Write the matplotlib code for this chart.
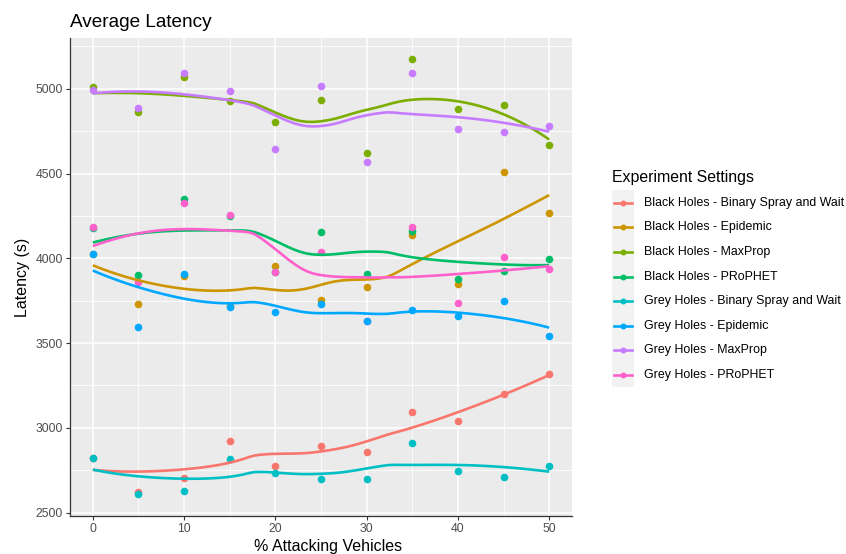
import numpy as np
import matplotlib.pyplot as plt
from matplotlib.lines import Line2D
from matplotlib.patches import Rectangle

plt.rcParams['font.family'] = ['Liberation Sans', 'DejaVu Sans']

# % attacking vehicles
x_pct = [0, 5, 10, 15, 20, 25, 30, 35, 40, 45, 50]

settings = ["Black Holes - Binary Spray and Wait", "Black Holes - Epidemic",
            "Black Holes - MaxProp", "Black Holes - PRoPHET",
            "Grey Holes - Binary Spray and Wait", "Grey Holes - Epidemic",
            "Grey Holes - MaxProp", "Grey Holes - PRoPHET"]

# average latency (s)
bh_bsw = [2823, 2622, 2707, 2922, 2774, 2894, 2855, 3091, 3040, 3199, 3317]
bh_epidemic = [4025, 3730, 3893, 3720, 3952, 3755, 3830, 4137, 3851, 4509, 4268]
bh_maxprop = [5010, 4862, 5067, 4929, 4801, 4935, 4624, 5173, 4880, 4902, 4668]
bh_prophet = [4180, 3901, 4347, 4247, 3922, 4157, 3910, 4160, 3879, 3924, 3997]
gh_bsw = [2823, 2610, 2627, 2817, 2731, 2699, 2699, 2912, 2743, 2709, 2776]
gh_epidemic = [4025, 3596, 3905, 3712, 3683, 3728, 3633, 3696, 3661, 3748, 3539]
gh_maxprop = [4994, 4886, 5093, 4988, 4646, 5016, 4567, 5093, 4764, 4744, 4780]
gh_prophet = [4187, 3863, 4329, 4257, 3922, 4038, 3633, 4184, 3736, 4006, 3934]

series = [bh_bsw, bh_epidemic, bh_maxprop, bh_prophet,
          gh_bsw, gh_epidemic, gh_maxprop, gh_prophet]

colors = ["#F8766D", "#CD9600", "#7CAE00", "#00BE67",
          "#00BFC4", "#00A9FF", "#C77CFF", "#FF61CC"]

# order the point layers are stacked in (PRoPHET grey sits under Epidemic grey)
point_order = [0, 1, 2, 3, 4, 7, 5, 6]


def loess(x, y, xs, span=0.75):
    # local quadratic fit with tricube weights (like R's loess default)
    x = np.asarray(x, float)
    y = np.asarray(y, float)
    n = len(x)
    q = int(np.floor(n * span))
    out = []
    for x0 in xs:
        d = np.abs(x - x0)
        ds = np.sort(d)
        h = (ds[q - 1] + ds[q]) / 2 if q < n else ds[-1]
        u = np.clip(d / h, 0, 1)
        w = (1 - u ** 3) ** 3
        X = np.vstack([np.ones(n), x - x0, (x - x0) ** 2]).T
        XtW = X.T * w
        beta = np.linalg.solve(XtW @ X, XtW @ y)
        out.append(beta[0])
    return np.array(out)


W, H = 846, 554
fig = plt.figure(figsize=(W / 100, H / 100), dpi=100)
ax = fig.add_axes([70 / W, 1 - 515.7 / H, (572 - 70) / W, (515.7 - 37.7) / H])
ax.set_facecolor('#EBEBEB')

xs = np.linspace(0, 50, 80)
smooths = [loess(x_pct, s, xs) for s in series]

for z, i in enumerate(point_order):
    ax.scatter(x_pct, series[i], s=30, color=colors[i], linewidths=0, zorder=3 + z * 0.01)
for sm, c in zip(smooths, colors):
    ax.plot(xs, sm, color=c, lw=1.9, zorder=4, solid_capstyle='butt')

allv = np.concatenate([np.ravel(series), np.ravel(smooths)])
lo, hi = allv.min(), allv.max()
pad = (hi - lo) * 0.05
ax.set_ylim(lo - pad, hi + pad)
ax.set_xlim(-2.5, 52.5)

ax.set_xticks([0, 10, 20, 30, 40, 50])
ax.set_xticks([5, 15, 25, 35, 45], minor=True)
ax.set_yticks([2500, 3000, 3500, 4000, 4500, 5000])
ax.set_yticks([2750, 3250, 3750, 4250, 4750, 5250], minor=True)
ax.grid(which='major', color='white', lw=1.1, zorder=0)
ax.grid(which='minor', color='white', lw=0.55, zorder=0)
ax.set_axisbelow(True)

for sp in ['top', 'right']:
    ax.spines[sp].set_visible(False)
for sp in ['left', 'bottom']:
    ax.spines[sp].set_color('#333333')
    ax.spines[sp].set_linewidth(0.9)
ax.tick_params(which='major', length=3, width=0.8, color='#333333',
               labelsize=8.8, labelcolor='#4D4D4D', pad=2)
ax.tick_params(which='minor', length=0)

fig.text(70 / W, 1 - 27 / H, "Average Latency", fontsize=13.7, va='baseline', ha='left')
fig.text(328 / W, 1 - 539 / H, "% Attacking Vehicles", fontsize=11.5, va='top', ha='center')
fig.text(22 / W, 1 - 277.5 / H, "Latency (s)", fontsize=11.5, va='center', ha='center',
         rotation=90)

# legend
fig.text(612 / W, 1 - 182 / H, "Experiment Settings", fontsize=11.4, va='baseline', ha='left')
row0, step = 202.7, 24.6
fig.patches.append(Rectangle((612 / W, 1 - (row0 + 7.5 * step) / H), 21.5 / W,
                             8 * step / H, transform=fig.transFigure,
                             facecolor='#F2F2F2', edgecolor='none'))
for i, (lab, c) in enumerate(zip(settings, colors)):
    yy = 1 - (row0 + i * step) / H
    fig.lines.append(Line2D([614 / W, 632 / W], [yy, yy], transform=fig.transFigure,
                            color=c, lw=1.9))
    fig.lines.append(Line2D([623 / W], [yy], transform=fig.transFigure, color=c,
                            marker='o', ms=4.3, mew=0))
    fig.text(644 / W, yy, lab, fontsize=8.9, va='center', ha='left')

fig.savefig('out.png', dpi=100)
